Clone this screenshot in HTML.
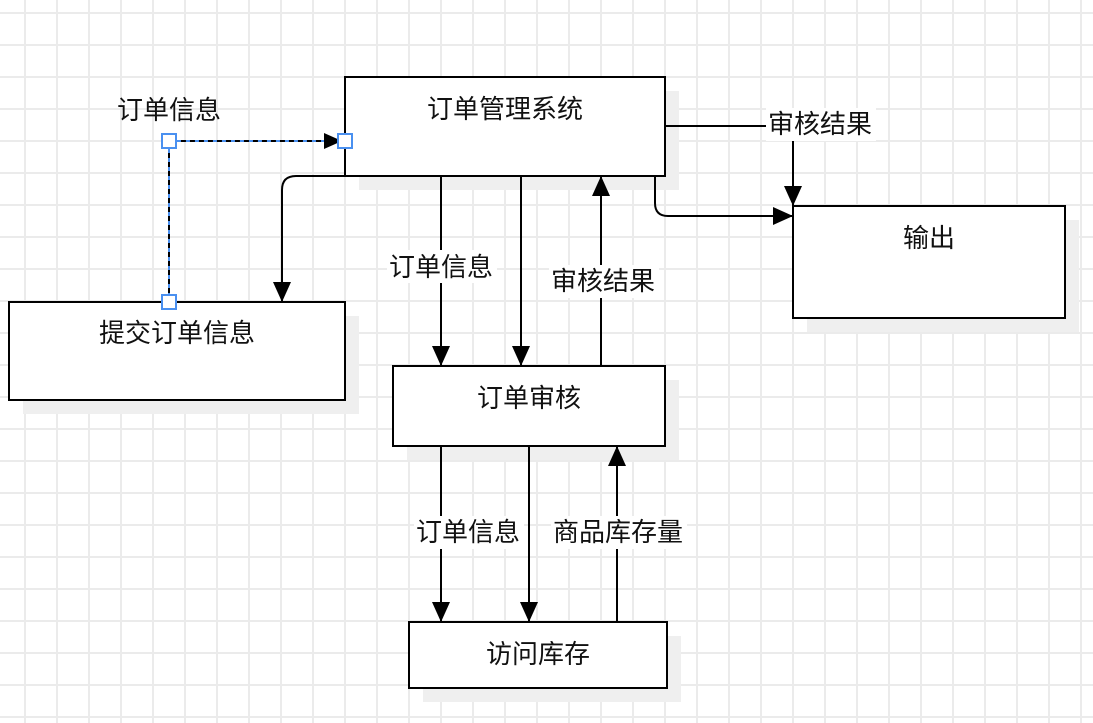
<!DOCTYPE html>
<html><head><meta charset="utf-8"><style>
html,body{margin:0;padding:0;background:#fff}
body{width:1093px;height:723px;overflow:hidden;position:relative;
background-image:linear-gradient(#ebebeb 2px,transparent 2px),linear-gradient(90deg,#ebebeb 2px,transparent 2px);
background-size:32px 32px;background-position:24px 12px;}
svg{position:absolute;left:0;top:0}
text{font-family:"Liberation Sans","Noto Sans CJK SC",sans-serif;font-size:26px;fill:#111}
</style></head><body>
<svg width="1093" height="723" viewBox="0 0 1093 723">
<defs>
<marker id="b" markerWidth="22" markerHeight="22" refX="20" refY="11" orient="auto" markerUnits="userSpaceOnUse"><path d="M0,2 L20,11 L0,20 z" fill="#000"/></marker>
</defs>
<g fill="#efefef">
<rect x="359" y="91" width="320" height="99"/>
<rect x="23" y="316" width="336" height="98"/>
<rect x="807" y="220" width="272" height="112"/>
<rect x="407" y="380" width="272" height="80"/>
<rect x="423" y="636" width="258" height="66"/>
</g>
<g fill="#fff" stroke="#000" stroke-width="2">
<rect x="345" y="77" width="320" height="99"/>
<rect x="9" y="302" width="336" height="98"/>
<rect x="793" y="206" width="272" height="112"/>
<rect x="393" y="366" width="272" height="80"/>
<rect x="409" y="622" width="258" height="66"/>
</g>
<g text-anchor="middle">
<text x="505" y="118">订单管理系统</text>
<text x="177" y="342">提交订单信息</text>
<text x="929" y="247">输出</text>
<text x="529" y="407">订单审核</text>
<text x="538" y="663">访问库存</text>
</g>
<g stroke="#000" stroke-width="2" fill="none" marker-end="url(#b)">
<path d="M345,176 H296 Q282,176 282,190 V302"/>
<path d="M441,176 V366"/>
<path d="M521,176 V366"/>
<path d="M601,366 V176"/>
<path d="M665,126 H793 V206"/>
<path d="M655,176 V203 Q655,216 668,216 H793"/>
<path d="M441,446 V622"/>
<path d="M529,446 V622"/>
<path d="M617,622 V446"/>
</g>
<g>
<rect x="387" y="250" width="110" height="33" fill="#fff"/>
<text x="389" y="276">订单信息</text>
<rect x="549" y="265" width="110" height="33" fill="#fff"/>
<text x="551" y="290">审核结果</text>
<rect x="766" y="108" width="110" height="33" fill="#fff"/>
<text x="768" y="133">审核结果</text>
<rect x="414" y="516" width="110" height="33" fill="#fff"/>
<text x="416" y="541">订单信息</text>
<rect x="551" y="516" width="136" height="33" fill="#fff"/>
<text x="553" y="541">商品库存量</text>
<text x="117" y="119">订单信息</text>
</g>
<path d="M169,302 V146 Q169,141 174,141 H338" stroke="#4a90f0" stroke-width="2" fill="none"/>
<path d="M169,302 V146 Q169,141 174,141 H330" stroke="#000" stroke-width="2" stroke-dasharray="5,4" fill="none"/>
<path d="M324,133 L342,141 L324,149 z" fill="#000"/>
<g fill="#fff" stroke="#4a90f0" stroke-width="2">
<rect x="162" y="134" width="14" height="14"/>
<rect x="338" y="134" width="14" height="14"/>
<rect x="162" y="295" width="14" height="14"/>
</g>
</svg>
</body></html>
